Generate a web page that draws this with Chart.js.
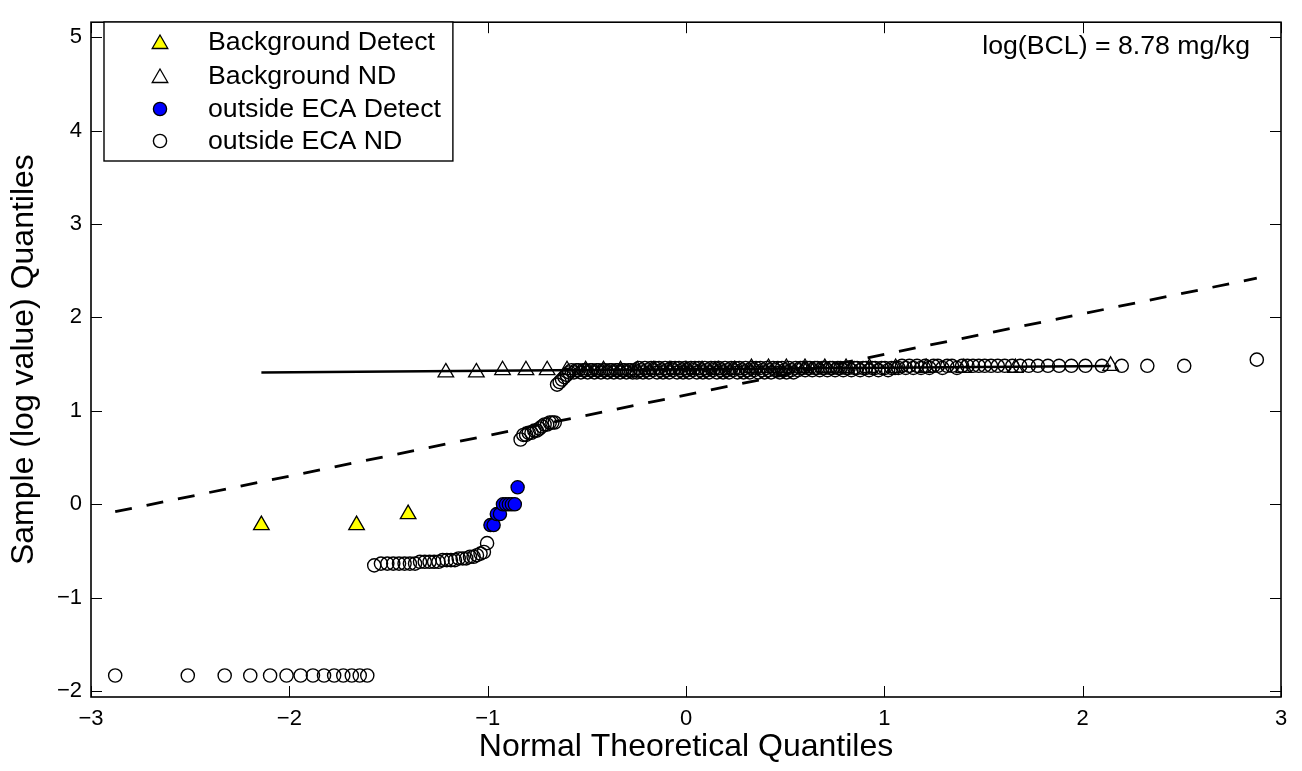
<!DOCTYPE html>
<html>
<head>
<meta charset="utf-8">
<title>Normal Q-Q plot</title>
<script src="https://cdn.jsdelivr.net/npm/chart.js@4.4.1/dist/chart.umd.min.js"></script>
<style>
  html, body { margin: 0; padding: 0; background: #fff; }
  canvas { display: block; }
</style>
</head>
<body>
<canvas id="qq" width="1302" height="771"></canvas>
<script>
const FONT = '"Liberation Sans", Arial, Helvetica, sans-serif';

// axis ticks
const xTicks = [-3, -2, -1, 0, 1, 2, 3];
const yTicks = [-2, -1, 0, 1, 2, 3, 4, 5];

// Background, detected values (theoretical quantile, log value)
const bgDetX = [-2.141, -1.661, -1.401];
const bgDetY = [-0.223, -0.223, -0.105];

// Background, non-detects
const bgNdX = [-1.211, -1.057, -0.925, -0.807, -0.700, -0.600, -0.506, -0.416, -0.330, -0.245,
  -0.162, -0.081, 0, 0.081, 0.162, 0.245, 0.330, 0.416, 0.506, 0.600,
  0.700, 0.807, 0.925, 1.057, 1.211, 1.401, 1.661, 2.141];
const bgNdY = [1.411, 1.411, 1.435, 1.435, 1.435, 1.435, 1.435, 1.435, 1.435, 1.435,
  1.435, 1.435, 1.435, 1.435, 1.435, 1.435, 1.459, 1.459, 1.459, 1.459,
  1.459, 1.459, 1.459, 1.459, 1.459, 1.459, 1.459, 1.482];

// outside ECA, detected values
const ecaDetX = [-0.986, -0.970, -0.954, -0.938, -0.923, -0.908, -0.893, -0.878, -0.863, -0.849];
const ecaDetY = [-0.223, -0.223, -0.105, -0.105, 0, 0, 0, 0, 0, 0.182];

// outside ECA, non-detects
const ecaNdX = [
  -2.878, -2.512, -2.326, -2.197, -2.097, -2.014, -1.943, -1.881, -1.825, -1.774, -1.728, -1.685, -1.645, -1.607,
  -1.572, -1.538, -1.506, -1.476, -1.447, -1.419, -1.392, -1.366, -1.341, -1.317, -1.293, -1.270, -1.248,
  -1.227, -1.206, -1.185, -1.165, -1.146, -1.126, -1.108, -1.089, -1.071, -1.054, -1.036, -1.019, -1.003,
  -0.834, -0.820, -0.806, -0.793, -0.779, -0.765, -0.752, -0.739, -0.726, -0.713, -0.700, -0.687, -0.674,
  -0.662, -0.650, -0.637, -0.625, -0.613, -0.601,
  -0.589, -0.577, -0.565, -0.553, -0.542, -0.530, -0.519, -0.507, -0.496, -0.484,
  -0.473, -0.462, -0.451, -0.440, -0.429, -0.418, -0.407, -0.396, -0.385, -0.375,
  -0.364, -0.353, -0.343, -0.332, -0.321, -0.311, -0.300, -0.290, -0.279, -0.269,
  -0.259, -0.248, -0.238, -0.228, -0.217, -0.207, -0.197, -0.187, -0.176, -0.166,
  -0.156, -0.146, -0.136, -0.126, -0.116, -0.105, -0.095, -0.085, -0.075, -0.065,
  -0.055, -0.045, -0.035, -0.025, -0.015, -0.005,
  0.005, 0.015, 0.025, 0.035, 0.045, 0.055, 0.065, 0.075, 0.085, 0.095,
  0.105, 0.116, 0.126, 0.136, 0.146, 0.156, 0.166, 0.176, 0.187, 0.197,
  0.207, 0.217, 0.228, 0.238, 0.248, 0.259, 0.269, 0.279, 0.290, 0.300,
  0.311, 0.321, 0.332, 0.343, 0.353, 0.364, 0.375, 0.385, 0.396, 0.407,
  0.418, 0.429, 0.440, 0.451, 0.462, 0.473, 0.484, 0.496, 0.507, 0.519,
  0.530, 0.542, 0.553, 0.565, 0.577, 0.589,
  0.601, 0.613, 0.625, 0.637, 0.650, 0.662, 0.674, 0.687, 0.700, 0.713,
  0.726, 0.739, 0.752, 0.765, 0.779, 0.793, 0.806, 0.820, 0.834, 0.849,
  0.863, 0.878, 0.893, 0.908, 0.923, 0.938, 0.954, 0.970, 0.986, 1.003,
  1.019, 1.036, 1.054, 1.071, 1.089, 1.108, 1.126, 1.146, 1.165, 1.185,
  1.206, 1.227, 1.248, 1.270, 1.293, 1.317, 1.341, 1.366, 1.392, 1.419,
  1.447, 1.476, 1.506, 1.538, 1.572, 1.607, 1.645, 1.685, 1.728, 1.774,
  1.825, 1.881, 1.943, 2.014, 2.097,
  2.197, 2.326, 2.512, 2.878
];
const ecaNdY = [
  -1.833, -1.833, -1.833, -1.833, -1.833, -1.833, -1.833, -1.833, -1.833, -1.833, -1.833, -1.833, -1.833, -1.833,
  -0.654, -0.635, -0.635, -0.635, -0.635, -0.635, -0.635, -0.635, -0.616, -0.616, -0.616, -0.616, -0.616,
  -0.598, -0.598, -0.598, -0.598, -0.580, -0.580, -0.580, -0.562, -0.562, -0.545, -0.528, -0.511, -0.416,
  0.693, 0.742, 0.742, 0.765, 0.765, 0.788, 0.788, 0.811, 0.833, 0.854, 0.854, 0.875, 0.875,
  0.875, 1.281, 1.308, 1.335, 1.361, 1.386,
  1.411, 1.435, 1.411, 1.435, 1.435, 1.411, 1.435, 1.435, 1.411, 1.435,
  1.435, 1.411, 1.435, 1.435, 1.411, 1.435, 1.435, 1.411, 1.435, 1.435,
  1.411, 1.435, 1.435, 1.411, 1.435, 1.435, 1.411, 1.435, 1.435, 1.411,
  1.435,
  1.411, 1.459, 1.435, 1.411, 1.459, 1.435, 1.411, 1.459, 1.435, 1.459,
  1.411, 1.459, 1.435, 1.411, 1.459, 1.435, 1.411, 1.459, 1.435, 1.459,
  1.411, 1.459, 1.435, 1.411, 1.459, 1.435, 1.411, 1.459, 1.435, 1.459,
  1.411, 1.459, 1.435, 1.411, 1.459, 1.435, 1.411, 1.459, 1.435, 1.459,
  1.411, 1.459, 1.435, 1.411, 1.459, 1.435, 1.411, 1.459, 1.435, 1.459,
  1.411, 1.459, 1.435, 1.411, 1.459, 1.435, 1.411, 1.459, 1.435, 1.459,
  1.411, 1.459, 1.435, 1.411, 1.459, 1.435, 1.411, 1.459, 1.435, 1.459,
  1.411, 1.459, 1.435, 1.411, 1.459, 1.435, 1.411, 1.459, 1.435, 1.459,
  1.459, 1.435, 1.459, 1.459, 1.435, 1.459, 1.459, 1.435, 1.459, 1.459,
  1.435, 1.459, 1.459, 1.435, 1.459, 1.459, 1.435, 1.459, 1.459, 1.435,
  1.459, 1.459, 1.435, 1.459, 1.459, 1.435, 1.459, 1.459, 1.435, 1.459,
  1.459, 1.435, 1.459, 1.459, 1.459,
  1.482, 1.459, 1.482, 1.459, 1.482, 1.459, 1.482, 1.459, 1.482, 1.482,
  1.459, 1.482, 1.482, 1.459, 1.482,
  1.482, 1.482, 1.482, 1.482, 1.482, 1.482, 1.482, 1.482, 1.482, 1.482,
  1.482, 1.482, 1.482, 1.482, 1.482, 1.482, 1.482, 1.482, 1.482,
  1.548
];

// fitted reference lines (end points)
const bgLineX = [-2.141, 2.141];
const bgLineY = [1.411, 1.480];
const ecaLineX = [-2.878, 2.878];
const ecaLineY = [-0.08, 2.42];

const legendLabels = ['Background Detect', 'Background ND', 'outside ECA Detect', 'outside ECA ND'];
const noteText = 'log(BCL) = 8.78 mg/kg';

function pts(xs, ys) {
  return xs.map((x, i) => ({ x: x, y: ys[i] }));
}
function minus(v) {
  return String(v).replace('-', '\u2212');
}

// box round the axes with inward tick marks on all four sides
const axisBox = {
  id: 'axisBox',
  afterDatasetsDraw(chart) {
    const { ctx, chartArea: a, scales } = chart;
    ctx.save();
    ctx.strokeStyle = '#000';
    ctx.lineWidth = 1;
    ctx.beginPath();
    xTicks.forEach(v => {
      const px = Math.round(scales.x.getPixelForValue(v)) + 0.5;
      ctx.moveTo(px, a.bottom); ctx.lineTo(px, a.bottom - 11);
      ctx.moveTo(px, a.top); ctx.lineTo(px, a.top + 11);
    });
    yTicks.forEach(v => {
      const py = Math.round(scales.y.getPixelForValue(v)) + 0.5;
      ctx.moveTo(a.left, py); ctx.lineTo(a.left + 11, py);
      ctx.moveTo(a.right, py); ctx.lineTo(a.right - 11, py);
    });
    ctx.stroke();
    ctx.lineWidth = 1.6;
    ctx.strokeRect(a.left, a.top, a.right - a.left, a.bottom - a.top);
    ctx.restore();
  }
};

// legend box inside the axes + note text
const legendBox = {
  id: 'legendBox',
  afterDraw(chart) {
    const ctx = chart.ctx;
    ctx.save();
    ctx.font = '26.7px ' + FONT;
    const tw = Math.max(...legendLabels.map(t => ctx.measureText(t).width));
    const x0 = 104, y0 = 22, h = 139;
    const mx = 160, tx = 208;
    const rows = [42, 76, 109, 141];
    ctx.fillStyle = '#fff';
    ctx.fillRect(x0, y0, tx - x0 + tw + 12, h);
    ctx.strokeStyle = '#000';
    ctx.lineWidth = 1.4;
    ctx.strokeRect(x0, y0, tx - x0 + tw + 12, h);
    legendLabels.forEach((lab, i) => {
      const ds = chart.data.datasets.find(d => d.label === lab);
      ctx.save();
      ctx.fillStyle = ds.backgroundColor;
      ctx.strokeStyle = ds.borderColor;
      ctx.lineWidth = ds.pointBorderWidth;
      Chart.helpers.drawPoint(ctx, {
        pointStyle: ds.pointStyle,
        radius: ds.pointRadius,
        borderWidth: ds.pointBorderWidth,
        rotation: 0
      }, mx, rows[i] + (ds.pointStyle === 'triangle' ? 2 : 0));
      ctx.restore();
      ctx.fillStyle = '#000';
      ctx.textBaseline = 'middle';
      ctx.textAlign = 'left';
      ctx.fillText(lab, tx, rows[i] + 1);
    });
    ctx.textAlign = 'right';
    ctx.fillText(noteText, 1250, 47);
    ctx.restore();
  }
};

new Chart(document.getElementById('qq'), {
  type: 'scatter',
  data: {
    datasets: [
      {
        label: 'ecaLine', data: pts(ecaLineX, ecaLineY), showLine: true,
        borderColor: '#000', borderWidth: 2.8, borderDash: [17, 15], pointRadius: 0, fill: false
      },
      {
        label: 'bgLine', data: pts(bgLineX, bgLineY), showLine: true,
        borderColor: '#000', borderWidth: 2.6, pointRadius: 0, fill: false
      },
      {
        label: 'Background Detect', data: pts(bgDetX, bgDetY), pointStyle: 'triangle',
        pointRadius: 9, pointBorderWidth: 1.3, backgroundColor: '#ffff00', borderColor: '#000'
      },
      {
        label: 'Background ND', data: pts(bgNdX, bgNdY), pointStyle: 'triangle',
        pointRadius: 9, pointBorderWidth: 1.3, backgroundColor: 'rgba(255,255,255,0)', borderColor: '#000'
      },
      {
        label: 'outside ECA Detect', data: pts(ecaDetX, ecaDetY), pointStyle: 'circle',
        pointRadius: 6.6, pointBorderWidth: 1.3, backgroundColor: '#0000ff', borderColor: '#000'
      },
      {
        label: 'outside ECA ND', data: pts(ecaNdX, ecaNdY), pointStyle: 'circle',
        pointRadius: 6.6, pointBorderWidth: 1.4, backgroundColor: 'rgba(255,255,255,0)', borderColor: '#000'
      }
    ]
  },
  options: {
    responsive: false,
    animation: false,
    devicePixelRatio: 1,
    layout: { padding: { top: 9, right: 21, left: 0, bottom: 0 } },
    plugins: { legend: { display: false }, tooltip: { enabled: false } },
    scales: {
      x: {
        type: 'linear', min: -3, max: 3,
        afterBuildTicks: s => { s.ticks = xTicks.map(v => ({ value: v })); },
        afterFit: s => { s.height = 74; },
        grid: { display: false, drawTicks: false },
        border: { display: false },
        ticks: { color: '#000', font: { family: FONT, size: 22 }, padding: 9, maxRotation: 0, callback: v => minus(v) },
        title: { display: true, text: 'Normal Theoretical Quantiles', color: '#000',
          font: { family: FONT, size: 32 }, padding: { top: 0, bottom: 5 } }
      },
      y: {
        type: 'linear', min: -2.063, max: 5.16,
        afterBuildTicks: s => { s.ticks = yTicks.map(v => ({ value: v })); },
        afterFit: s => { s.width = 91; },
        grid: { display: false, drawTicks: false },
        border: { display: false },
        ticks: { color: '#000', font: { family: FONT, size: 22 }, padding: 9, callback: v => minus(v) },
        title: { display: true, text: 'Sample (log value) Quantiles', color: '#000',
          font: { family: FONT, size: 32 }, padding: { top: 5, bottom: 0 } }
      }
    }
  },
  plugins: [axisBox, legendBox]
});
</script>
</body>
</html>
